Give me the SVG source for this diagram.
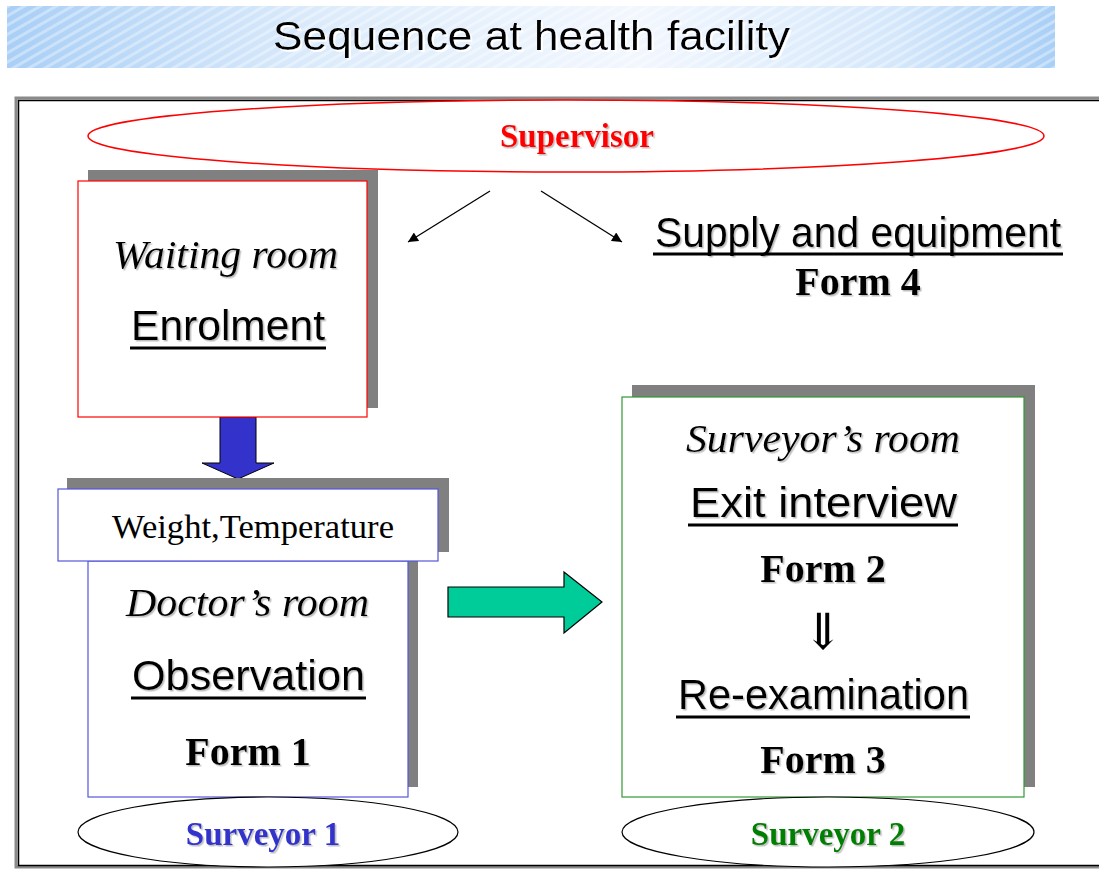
<svg xmlns="http://www.w3.org/2000/svg" width="1099" height="869" viewBox="0 0 1099 869">
<defs>
  <linearGradient id="band" x1="0" y1="0" x2="1" y2="0">
    <stop offset="0" stop-color="#A9CFF6"/>
    <stop offset="0.3" stop-color="#DCEBFB"/>
    <stop offset="0.6" stop-color="#F2F7FE"/>
    <stop offset="0.85" stop-color="#D4E7FB"/>
    <stop offset="1" stop-color="#A9CFF6"/>
  </linearGradient>
  <pattern id="stripes" width="8" height="8" patternUnits="userSpaceOnUse" patternTransform="rotate(-30)">
    <rect width="8" height="3" fill="#ffffff" fill-opacity="0.35"/>
  </pattern>
  <filter id="tsh" x="-5%" y="-20%" width="110%" height="140%">
    <feDropShadow dx="1.5" dy="1.5" stdDeviation="0.6" flood-color="#888" flood-opacity="0.55"/>
  </filter>
  <filter id="wsh" x="-5%" y="-20%" width="110%" height="140%">
    <feDropShadow dx="2" dy="2" stdDeviation="0.3" flood-color="#fff" flood-opacity="1"/>
  </filter>
  <marker id="ah" viewBox="0 0 10 10" refX="10" refY="5" markerWidth="14" markerHeight="10" markerUnits="userSpaceOnUse" orient="auto">
    <path d="M0,0 L10,5 L0,10 z" fill="#000"/>
  </marker>
  <style>
    .shadow { fill: #808080; }
    .sans { font-family: "Liberation Sans", Arial, sans-serif; font-size: 42px; fill: #000; }
    .ital { font-family: "Liberation Serif", "Times New Roman", serif; font-style: italic; font-size: 41px; fill: #000; }
    .bold { font-family: "Liberation Serif", "Times New Roman", serif; font-weight: bold; font-size: 40px; fill: #000; }
    .lbl { font-family: "Liberation Serif", "Times New Roman", serif; font-weight: bold; font-size: 33px; }
    .ul { stroke: #000; stroke-width: 3; }
  </style>
</defs>
<rect width="1099" height="869" fill="#fff"/>

<g id="title">
  <rect x="7" y="6" width="1048" height="62" fill="url(#band)"/>
  <rect x="7" y="6" width="1048" height="62" fill="url(#stripes)"/>
  <text x="273" y="50" font-family="Liberation Sans, Arial, sans-serif" font-size="41" textLength="517" lengthAdjust="spacingAndGlyphs" fill="#000" filter="url(#wsh)">Sequence at health facility</text>
</g>

<g id="frame">
  <rect x="16" y="98" width="1100" height="769" fill="none" stroke="#8a8a8a" stroke-width="3"/>
  <rect x="18.5" y="100.5" width="1100" height="765" fill="none" stroke="#000" stroke-width="1.5"/>
</g>

<g id="supervisor">
  <ellipse cx="566" cy="136" rx="478" ry="36" fill="#fff" stroke="#FF0000" stroke-width="1.5"/>
  <text class="lbl" x="577" y="147" text-anchor="middle" fill="#FF0000" filter="url(#tsh)">Supervisor</text>
</g>

<g id="connectors">
  <line x1="490" y1="191" x2="408" y2="242" stroke="#000" stroke-width="1.3" marker-end="url(#ah)"/>
  <line x1="541" y1="191" x2="622" y2="242" stroke="#000" stroke-width="1.3" marker-end="url(#ah)"/>
  <path d="M220,417 L256,417 L256,463 L274,463 L238,479 L202,463 L220,463 Z" fill="#3333CC" stroke="#000" stroke-width="1"/>
  <path d="M448,587 L564,587 L564,572 L602,602 L564,633 L564,617 L448,617 Z" fill="#00CC99" stroke="#000" stroke-width="1.2"/>
</g>

<g id="supply">
  <text class="sans" x="655" y="247" textLength="406" lengthAdjust="spacingAndGlyphs" filter="url(#tsh)">Supply and equipment</text>
  <line class="ul" x1="653" y1="254" x2="1063" y2="254"/>
  <text class="bold" x="858" y="295" text-anchor="middle" filter="url(#tsh)">Form 4</text>
</g>

<g id="waiting-room">
  <rect class="shadow" x="88" y="170" width="290" height="238"/>
  <rect x="78" y="181" width="289" height="236" fill="#fff" stroke="#FF0000" stroke-width="1.2"/>
  <text class="ital" x="113" y="268" textLength="225" lengthAdjust="spacingAndGlyphs" filter="url(#tsh)">Waiting room</text>
  <text class="sans" x="131" y="340" textLength="194" lengthAdjust="spacingAndGlyphs" filter="url(#tsh)">Enrolment</text>
  <line class="ul" x1="130" y1="348" x2="326" y2="348"/>
</g>

<g id="doctors-room">
  <rect class="shadow" x="98" y="551" width="320" height="236"/>
  <rect x="88" y="561" width="320" height="236" fill="#fff" stroke="#5555DD" stroke-width="1.2"/>
  <text class="ital" x="126" y="616" textLength="243" lengthAdjust="spacingAndGlyphs" filter="url(#tsh)">Doctor’s room</text>
  <text class="sans" x="132" y="690" textLength="233" lengthAdjust="spacingAndGlyphs" filter="url(#tsh)">Observation</text>
  <line class="ul" x1="131" y1="698" x2="366" y2="698"/>
  <text class="bold" x="248" y="765" text-anchor="middle" filter="url(#tsh)">Form 1</text>
</g>

<g id="weight-temperature">
  <rect class="shadow" x="67" y="478" width="382" height="74"/>
  <rect x="58" y="489" width="380" height="72" fill="#fff" stroke="#5555DD" stroke-width="1.2"/>
  <text x="112" y="538" textLength="282" lengthAdjust="spacingAndGlyphs" font-family="Liberation Serif, Times New Roman, serif" font-size="33" fill="#000">Weight,Temperature</text>
</g>

<g id="surveyor1">
  <ellipse cx="268" cy="832" rx="190" ry="35" fill="#fff" stroke="#000" stroke-width="1.2"/>
  <text class="lbl" x="263" y="845" text-anchor="middle" fill="#3333CC" filter="url(#tsh)">Surveyor 1</text>
</g>

<g id="surveyors-room">
  <rect class="shadow" x="632" y="385" width="403" height="402"/>
  <rect x="622" y="397" width="402" height="400" fill="#fff" stroke="#339933" stroke-width="1.2"/>
  <text class="ital" x="686" y="452" textLength="274" lengthAdjust="spacingAndGlyphs" filter="url(#tsh)">Surveyor’s room</text>
  <text class="sans" x="690" y="517" textLength="267" lengthAdjust="spacingAndGlyphs" filter="url(#tsh)">Exit interview</text>
  <line class="ul" x1="688" y1="525" x2="958" y2="525"/>
  <text class="bold" x="823" y="582" text-anchor="middle" filter="url(#tsh)">Form 2</text>
  <text x="823" y="649" text-anchor="middle" font-family="Liberation Serif, DejaVu Serif, serif" font-size="50" fill="#000">⇓</text>
  <text class="sans" x="678" y="709" textLength="291" lengthAdjust="spacingAndGlyphs" filter="url(#tsh)">Re-examination</text>
  <line class="ul" x1="676" y1="717" x2="970" y2="717"/>
  <text class="bold" x="823" y="773" text-anchor="middle" filter="url(#tsh)">Form 3</text>
</g>

<g id="surveyor2">
  <ellipse cx="828" cy="832" rx="206" ry="35" fill="#fff" stroke="#000" stroke-width="1.2"/>
  <text class="lbl" x="828" y="845" text-anchor="middle" fill="#008000" filter="url(#tsh)">Surveyor 2</text>
</g>
</svg>
